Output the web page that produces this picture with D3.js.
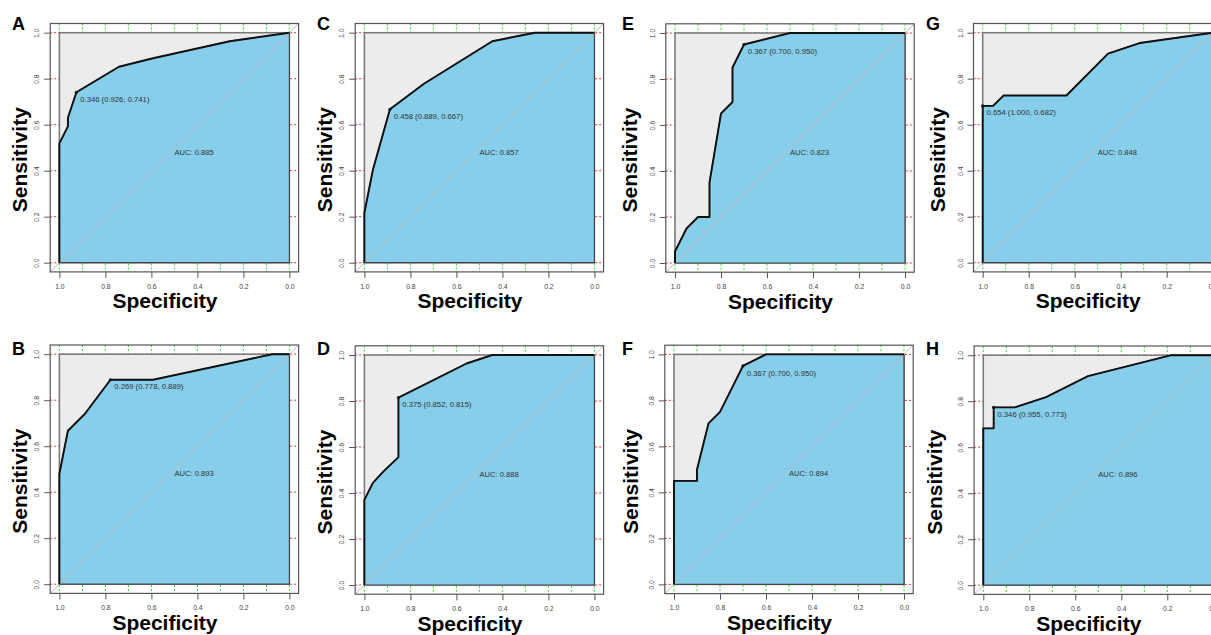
<!DOCTYPE html>
<html>
<head>
<meta charset="utf-8">
<script src="https://cdn.jsdelivr.net/npm/d3@7"></script>
<style>
  html, body { margin: 0; padding: 0; background: #fff; }
  svg { display: block; font-family: "Liberation Sans", Arial, sans-serif; }
</style>
</head>
<body>
<svg id="chart" width="1211" height="635"></svg>
<script>
// panel order as drawn
const panelIds = ['A', 'B', 'C', 'D', 'E', 'F', 'G', 'H'];

// ROC points (specificity, sensitivity) for each panel
const specA = [1, 1, 0.963, 0.963, 0.926, 0.741, 0.593, 0.259, 0];
const sensA = [0, 0.519, 0.593, 0.630, 0.741, 0.852, 0.889, 0.963, 1];
const specB = [1, 1, 0.963, 0.889, 0.778, 0.593, 0.074, 0];
const sensB = [0, 0.481, 0.667, 0.741, 0.889, 0.889, 1, 1];
const specC = [1, 1, 0.963, 0.889, 0.741, 0.444, 0.259, 0];
const sensC = [0, 0.217, 0.404, 0.667, 0.778, 0.963, 1, 1];
const specD = [1, 1, 0.963, 0.917, 0.852, 0.852, 0.704, 0.556, 0.444, 0];
const sensD = [0, 0.370, 0.444, 0.494, 0.556, 0.815, 0.889, 0.963, 1, 1];
const specE = [1, 1, 0.95, 0.9, 0.85, 0.85, 0.8, 0.75, 0.75, 0.7, 0.5, 0];
const sensE = [0, 0.05, 0.15, 0.2, 0.2, 0.35, 0.65, 0.7, 0.85, 0.95, 1, 1];
const specF = [1, 1, 0.9, 0.9, 0.85, 0.8, 0.7, 0.6, 0];
const sensF = [0, 0.45, 0.45, 0.5, 0.7, 0.75, 0.95, 1, 1];
const specG = [1, 1, 0.955, 0.909, 0.636, 0.455, 0.318, 0];
const sensG = [0, 0.682, 0.682, 0.727, 0.727, 0.909, 0.955, 1];
const specH = [1, 1, 0.955, 0.955, 0.864, 0.727, 0.545, 0.182, 0];
const sensH = [0, 0.682, 0.682, 0.773, 0.773, 0.818, 0.909, 1, 1];

// best threshold and AUC per panel
const cutSpec = [0.926, 0.778, 0.889, 0.852, 0.700, 0.700, 1.000, 0.955];
const cutSens = [0.741, 0.889, 0.667, 0.815, 0.950, 0.950, 0.682, 0.773];
const cutLabels = ['0.346 (0.926, 0.741)', '0.269 (0.778, 0.889)', '0.458 (0.889, 0.667)', '0.375 (0.852, 0.815)',
  '0.367 (0.700, 0.950)', '0.367 (0.700, 0.950)', '0.654 (1.000, 0.682)', '0.346 (0.955, 0.773)'];
const aucValues = [0.885, 0.893, 0.857, 0.888, 0.823, 0.894, 0.848, 0.896];

const xTicks = [1.0, 0.8, 0.6, 0.4, 0.2, 0.0];
const yTicks = [0.0, 0.2, 0.4, 0.6, 0.8, 1.0];
const gridX = [0, 0.1, 0.2, 0.3, 0.4, 0.5, 0.6, 0.7, 0.8, 0.9, 1.0];

const rocData = {
  A: [specA, sensA], B: [specB, sensB], C: [specC, sensC], D: [specD, sensD],
  E: [specE, sensE], F: [specF, sensF], G: [specG, sensG], H: [specH, sensH]
};

// layout: data-area left/top, letter x, y-title x
const layout = {
  A: { left: 59.4, top: 32.7, letterX: 12, sensX: 27 },
  B: { left: 59.4, top: 354.2, letterX: 12, sensX: 27 },
  C: { left: 364.4, top: 32.7, letterX: 317, sensX: 332 },
  D: { left: 364.4, top: 355, letterX: 317, sensX: 332 },
  E: { left: 675, top: 33, letterX: 622, sensX: 637 },
  F: { left: 674, top: 354.4, letterX: 622, sensX: 638 },
  G: { left: 982.7, top: 32.7, letterX: 926, sensX: 945 },
  H: { left: 983.3, top: 355.2, letterX: 926, sensX: 942 }
};
const SIZE = 230;

const svg = d3.select('#chart');
svg.append('rect').attr('width', 1211).attr('height', 635).attr('fill', '#fff');

panelIds.forEach((id, i) => {
  const L = layout[id];
  const x = d3.scaleLinear().domain([1, 0]).range([L.left, L.left + SIZE]);
  const y = d3.scaleLinear().domain([0, 1]).range([L.top + SIZE, L.top]);
  const g = svg.append('g');

  const fx0 = x(1.04), fx1 = x(-0.04), fy0 = y(1.04), fy1 = y(-0.04);

  // dotted grid (only visible in the margin strip)
  g.selectAll('.gx').data(gridX).enter().append('line')
    .attr('x1', d => x(d)).attr('x2', d => x(d))
    .attr('y1', fy0).attr('y2', fy1)
    .attr('stroke', '#33dd33').attr('stroke-width', 1).attr('stroke-dasharray', '2,2');
  g.selectAll('.gy').data(yTicks).enter().append('line')
    .attr('y1', d => y(d)).attr('y2', d => y(d))
    .attr('x1', fx0).attr('x2', fx1)
    .attr('stroke', '#ee3333').attr('stroke-width', 1).attr('stroke-dasharray', '2,2');

  // max AUC polygon
  g.append('rect')
    .attr('x', x(1)).attr('y', y(1))
    .attr('width', x(0) - x(1)).attr('height', y(0) - y(1))
    .attr('fill', '#ececec').attr('stroke', '#777').attr('stroke-width', 1.5);

  const [spec, sens] = rocData[id];
  const pts = spec.map((s, k) => [s, sens[k]]);

  // AUC polygon
  const area = pts.concat([[0, 0]]);
  g.append('path')
    .attr('d', d3.line().x(d => x(d[0])).y(d => y(d[1]))(area) + 'Z')
    .attr('fill', '#87ceeb').attr('stroke', '#444').attr('stroke-width', 1.2);

  // diagonal
  g.append('line')
    .attr('x1', x(1.04)).attr('y1', y(-0.04))
    .attr('x2', x(-0.04)).attr('y2', y(1.04))
    .attr('stroke', '#bbb').attr('stroke-width', 1);

  // ROC curve
  g.append('path')
    .attr('d', d3.line().x(d => x(d[0])).y(d => y(d[1]))(pts))
    .attr('fill', 'none').attr('stroke', '#111').attr('stroke-width', 1.9)
    .attr('stroke-linejoin', 'round');

  // frame
  g.append('rect')
    .attr('x', fx0).attr('y', fy0)
    .attr('width', fx1 - fx0).attr('height', fy1 - fy0)
    .attr('fill', 'none').attr('stroke', '#555').attr('stroke-width', 1.2);

  // axes
  const xAxis = g.append('g')
    .attr('transform', 'translate(0,' + fy1 + ')')
    .call(d3.axisBottom(x).tickValues(xTicks).tickFormat(d3.format('.1f')).tickSize(6).tickPadding(6));
  const yAxis = g.append('g')
    .attr('transform', 'translate(' + fx0 + ',0)')
    .call(d3.axisLeft(y).tickValues(yTicks).tickFormat(d3.format('.1f')).tickSize(6));
  [xAxis, yAxis].forEach(a => {
    a.select('.domain').remove();
    a.selectAll('line').attr('stroke', '#555');
    a.selectAll('text').attr('fill', '#444').attr('font-size', 6.8)
      .attr('font-family', '"Liberation Sans", Arial, sans-serif');
  });
  yAxis.selectAll('text')
    .attr('x', null).attr('dy', null)
    .attr('text-anchor', 'middle')
    .attr('transform', 'translate(-11,0) rotate(-90)');

  // cut-off point and label
  g.append('circle')
    .attr('cx', x(cutSpec[i])).attr('cy', y(cutSens[i])).attr('r', 1.6).attr('fill', '#111');
  g.append('text')
    .attr('x', x(cutSpec[i]) + 3.8).attr('y', y(cutSens[i]) + 9.6)
    .attr('font-size', 7.7).attr('fill', '#333')
    .text(cutLabels[i]);

  // AUC text
  g.append('text')
    .attr('x', x(0.5)).attr('y', y(0.5) + 7)
    .attr('font-size', 7.6).attr('fill', '#333')
    .text('AUC: ' + aucValues[i].toFixed(3));

  // titles
  g.append('text')
    .attr('x', L.left + SIZE / 2 - 9.5).attr('y', L.top + SIZE + 45.6)
    .attr('text-anchor', 'middle').attr('font-size', 21).attr('font-weight', 'bold')
    .text('Specificity');
  g.append('text')
    .attr('transform', 'translate(' + L.sensX + ',' + (L.top + SIZE / 2 + 12) + ') rotate(-90)')
    .attr('text-anchor', 'middle').attr('font-size', 21).attr('font-weight', 'bold')
    .text('Sensitivity');

  // panel letter
  g.append('text')
    .attr('x', L.letterX).attr('y', L.top < 100 ? 30 : 355)
    .attr('font-size', 18).attr('font-weight', 'bold')
    .text(id);
});
</script>
</body>
</html>
